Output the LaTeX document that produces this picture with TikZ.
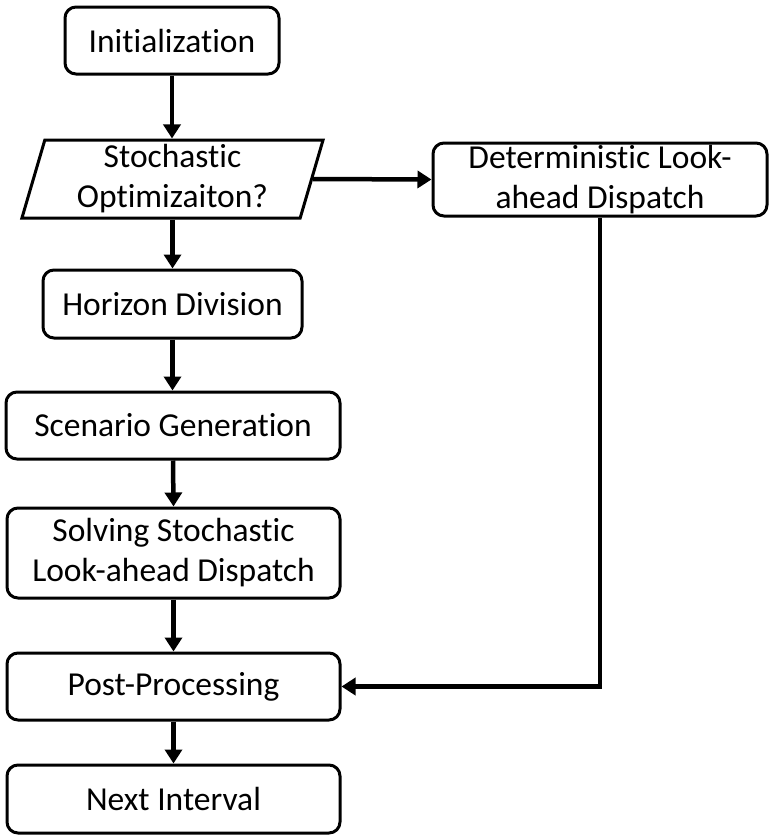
\documentclass[tikz,border=0pt]{standalone}
\usepackage{fontspec}
\setmainfont{Carlito}[Ligatures=CommonOff]
\usetikzlibrary{arrows.meta,shapes.geometric}
\tikzset{
  box/.style={draw, line width=3pt, rounded corners=11pt, align=center,
    inner sep=0pt, font=\fontsize{33.5}{40}\selectfont},
  para/.style={draw, line width=3pt, shape=trapezium, trapezium left angle=76,
    trapezium right angle=104, trapezium stretches=true, align=center,
    inner sep=0pt, font=\fontsize{33.5}{40}\selectfont},
  flow/.style={line width=4.5pt, -{Triangle[length=14pt,width=17pt]}}
}
\begin{document}
\begin{tikzpicture}[x=1pt,y=-1pt]
  \useasboundingbox (0,0) rectangle (772,835);
  \node[box, minimum width=214pt, minimum height=67pt] (init) at (172,40.5) {Initialization};
  \node[para, minimum width=302pt, minimum height=78pt] (stoch) at (172.5,179) {Stochastic\\Optimizaiton?};
  \node[box, minimum width=334pt, minimum height=73pt] (det) at (600,179.5) {Deterministic Look-\\ahead Dispatch};
  \node[box, minimum width=259pt, minimum height=68pt] (hor) at (172.5,304) {Horizon Division};
  \node[box, minimum width=334pt, minimum height=67pt] (scen) at (173,425.5) {Scenario Generation};
  \node[box, minimum width=333pt, minimum height=90pt] (solve) at (173.5,553) {Solving Stochastic\\Look-ahead Dispatch};
  \node[box, minimum width=333pt, minimum height=67pt] (post) at (173.5,686.5) {Post-Processing};
  \node[box, minimum width=333pt, minimum height=68pt] (next) at (173.5,799) {Next Interval};

  \draw[flow] (init.south) -- (init.south |- stoch.north);
  \draw[flow] (stoch.east) -- (det.west);
  \draw[flow] (stoch.south) -- (stoch.south |- hor.north);
  \draw[flow] (hor.south) -- (hor.south |- scen.north);
  \draw[flow] (scen.south) -- (solve.north);
  \draw[flow] (solve.south) -- (post.north);
  \draw[flow] (post.south) -- (next.north);
  \draw[flow] (det.south) |- (post.east);
\end{tikzpicture}
\end{document}
